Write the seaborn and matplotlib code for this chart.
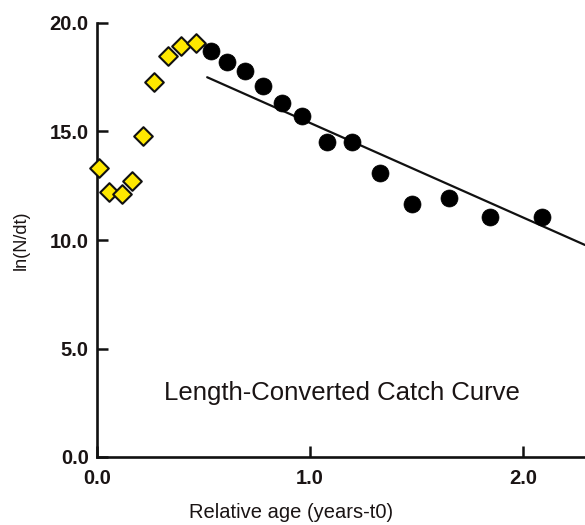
import matplotlib
matplotlib.use("Agg")
import matplotlib.pyplot as plt
import seaborn as sns
import numpy as np
import pandas as pd

# Data
young_age = [0.01, 0.056, 0.118, 0.166, 0.217, 0.268, 0.335, 0.393, 0.465]
young_ln = [13.3, 12.2, 12.1, 12.7, 14.8, 17.3, 18.5, 18.95, 19.1]

fit_age = [0.534, 0.61, 0.695, 0.78, 0.868, 0.96, 1.078, 1.196, 1.33, 1.477, 1.652, 1.845, 2.088]
fit_ln = [18.7, 18.2, 17.8, 17.1, 16.3, 15.7, 14.5, 14.5, 13.1, 11.66, 11.95, 11.07, 11.07]

line_x = [0.517, 2.29]
line_y = [17.5, 9.77]

xticks = [0.0, 1.0, 2.0]
xticklabels = ["0.0", "1.0", "2.0"]
yticks = [0.0, 5.0, 10.0, 15.0, 20.0]
yticklabels = ["0.0", "5.0", "10.0", "15.0", "20.0"]

sns.set_theme(style="white")
plt.rcParams['font.family'] = ['Liberation Sans', 'DejaVu Sans']
plt.rcParams['xtick.direction'] = 'in'
plt.rcParams['ytick.direction'] = 'in'
plt.rcParams['xtick.bottom'] = True
plt.rcParams['ytick.left'] = True
plt.rcParams['xtick.major.size'] = 8
plt.rcParams['ytick.major.size'] = 8
plt.rcParams['xtick.major.width'] = 1.8
plt.rcParams['ytick.major.width'] = 1.8
plt.rcParams['xtick.major.pad'] = 9
plt.rcParams['ytick.major.pad'] = 6

fig = plt.figure(figsize=(5.85, 5.25), dpi=100)
ax = fig.add_axes([97/585, 1 - 457/525, 1 - 97/585, (457 - 23)/525])

df_line = pd.DataFrame({"x": line_x, "y": line_y})
sns.lineplot(data=df_line, x="x", y="y", ax=ax, color="#111111", linewidth=1.6)

df_y = pd.DataFrame({"x": young_age, "y": young_ln})
sns.scatterplot(data=df_y, x="x", y="y", ax=ax, marker="D", s=90,
                color="#FFE800", edgecolor="#111111", linewidth=1.5, zorder=3,
                clip_on=False)

df_f = pd.DataFrame({"x": fit_age, "y": fit_ln})
sns.scatterplot(data=df_f, x="x", y="y", ax=ax, marker="o", s=150,
                color="#000000", edgecolor="#000000", linewidth=0.5, zorder=4,
                clip_on=False)

ax.set_xlim(0, 2.29)
ax.set_ylim(0, 20)
ax.set_xticks(xticks)
ax.set_xticklabels(xticklabels)
ax.set_yticks(yticks)
ax.set_yticklabels(yticklabels)

for s in ["top", "right"]:
    ax.spines[s].set_visible(False)
for s in ["left", "bottom"]:
    ax.spines[s].set_color("#111111")
    ax.spines[s].set_linewidth(1.9)

ax.tick_params(axis="both", color="#111111", labelsize=14.5, labelcolor="#1a1414")
for lab in ax.get_xticklabels() + ax.get_yticklabels():
    lab.set_fontweight("bold")

ax.set_xlabel("Relative age (years-t0)", fontsize=14.5, color="#1a1414")
ax.set_ylabel("ln(N/dt)", fontsize=13, color="#1a1414")
ax.xaxis.set_label_coords((291 - 97) / 488, -0.105)
ax.yaxis.set_label_coords(-0.137, 0.5)

ax.text(1.15, 2.95, "Length-Converted Catch Curve", fontsize=18.5,
        ha="center", va="center", color="#1a1414")

fig.savefig("out.png", dpi=100)
